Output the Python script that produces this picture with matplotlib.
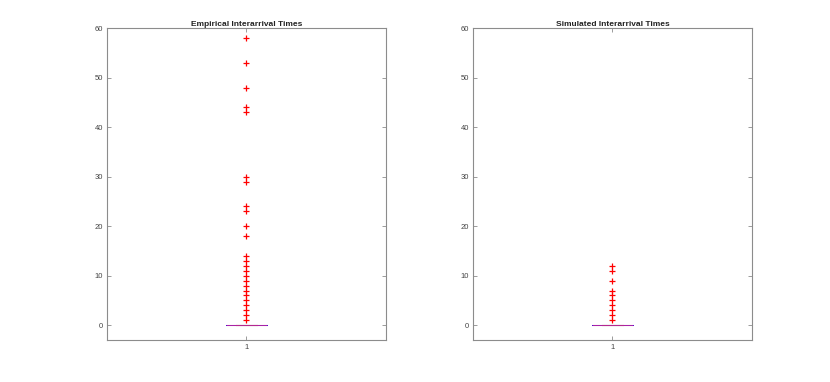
import matplotlib.pyplot as plt
import numpy as np

plt.rcParams['font.family'] = ['Liberation Sans', 'DejaVu Sans']

# interarrival times: most are 0, the rest show up as outliers
empirical_zero_count = 400
empirical_nonzero = [1, 2, 3, 4, 5, 6, 7, 8, 9, 10, 11, 12, 13, 14,
                     18, 20, 23, 24, 29, 30, 43, 44, 48, 53, 58]
simulated_zero_count = 400
simulated_nonzero = [1, 2, 3, 4, 5, 6, 7, 9, 11, 12]

titles = ['Empirical Interarrival Times', 'Simulated Interarrival Times']
y_ticks = [0, 10, 20, 30, 40, 50, 60]

datasets = [
    np.concatenate([np.zeros(empirical_zero_count), empirical_nonzero]),
    np.concatenate([np.zeros(simulated_zero_count), simulated_nonzero]),
]

fig = plt.figure(figsize=(8.3, 3.82), dpi=100)
lefts = [107.3 / 830, 473.3 / 830]
width = 278.2 / 830
bottom = 1 - 340 / 382
height = (340 - 28.3) / 382

axis_color = '#8c8c8c'

for left, data, title in zip(lefts, datasets, titles):
    ax = fig.add_axes([left, bottom, width, height])
    ax.boxplot(data, positions=[1], widths=0.15, whis=1.5,
               boxprops=dict(color='blue', linewidth=0.6),
               medianprops=dict(color='#e0308a', linewidth=0.8, alpha=0.75),
               whiskerprops=dict(color='black', linewidth=0.6, linestyle='--'),
               capprops=dict(color='#602060', linewidth=0.8, alpha=0.35),
               capwidths=0.075,
               flierprops=dict(marker='+', markeredgecolor='red',
                               markersize=4, markeredgewidth=0.9,
                               linestyle='none'))
    ax.set_xlim(0.5, 1.5)
    ax.set_ylim(-3, 60)
    ax.set_yticks(y_ticks)
    ax.set_xticks([1])
    ax.set_xticklabels(['1'])
    ax.set_title(title, fontsize=6, fontweight='bold', pad=2, color='#222222')
    ax.tick_params(direction='in', length=3, width=0.6, labelsize=5.5,
                   colors=axis_color, labelcolor='#444444',
                   top=True, right=True, pad=3)
    for sp in ax.spines.values():
        sp.set_color(axis_color)
        sp.set_linewidth(0.8)

fig.savefig('out.png', dpi=100)
